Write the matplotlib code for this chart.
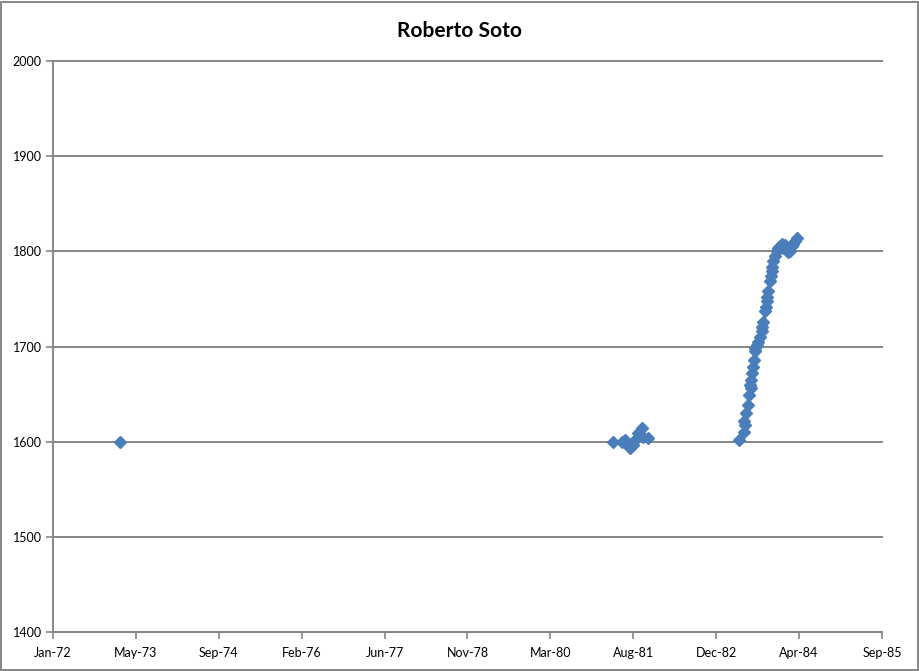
import datetime as dt
import matplotlib
matplotlib.use('Agg')
import matplotlib.pyplot as plt
import matplotlib.dates as mdates
from matplotlib.patches import Rectangle

plt.rcParams['font.family'] = ['Lato', 'DejaVu Sans']

# Rating history (date, rating)
dates = [
    '1973-02-08',
    '1981-03-30', '1981-05-23', '1981-06-12', '1981-07-02', '1981-07-12',
    '1981-08-01', '1981-08-11', '1981-08-31', '1981-09-21', '1981-10-01',
    '1981-10-31',
    '1983-05-01', '1983-05-31', '1983-06-05', '1983-06-01', '1983-06-14',
    '1983-06-24', '1983-06-28', '1983-07-05', '1983-07-10', '1983-07-14',
    '1983-07-18', '1983-07-24', '1983-07-30', '1983-08-03', '1983-08-08',
    '1983-08-19', '1983-08-25', '1983-09-04', '1983-09-14', '1983-09-19',
    '1983-09-24', '1983-10-04', '1983-10-09', '1983-10-14', '1983-10-19',
    '1983-10-24', '1983-11-03', '1983-11-08', '1983-11-13', '1983-11-18',
    '1983-11-23', '1983-12-01', '1983-12-14', '1983-12-22', '1984-01-03',
    '1984-01-13', '1984-01-23', '1984-02-02', '1984-02-12', '1984-02-22',
    '1984-03-03', '1984-03-13', '1984-03-23', '1984-04-02', '1984-04-12',
]
ratings = [
    1600,
    1600, 1600, 1602, 1597, 1593,
    1597, 1602, 1609, 1614, 1605,
    1604,
    1602, 1610, 1618, 1622, 1630,
    1639, 1649, 1660, 1656, 1665,
    1672, 1678, 1686, 1695, 1698,
    1702, 1705, 1710, 1716, 1720,
    1726, 1737, 1742, 1748, 1752,
    1758, 1769, 1774, 1779, 1784,
    1790, 1795, 1800, 1803, 1806,
    1808, 1804, 1807, 1802, 1799,
    1800, 1806, 1808, 1811, 1814,
]
y_ticks = [1400, 1500, 1600, 1700, 1800, 1900, 2000]

x = [dt.datetime.strptime(d, '%Y-%m-%d') for d in dates]
start = dt.datetime(1972, 1, 1)
x_ticks = [start + dt.timedelta(days=500 * i) for i in range(11)]

grey = '#868686'
blue = '#4A7EBB'

fig = plt.figure(figsize=(9.2, 6.71), dpi=100)
ax = fig.add_axes([53 / 920, 1 - 632 / 671, 829 / 920, 571 / 671])

ax.plot(x, ratings, linestyle='none', marker='D', markersize=6,
        color=blue, markeredgecolor=blue, zorder=3)

ax.set_xlim(x_ticks[0], x_ticks[-1])
ax.set_ylim(1400, 2000)
ax.set_xticks(x_ticks)
ax.xaxis.set_major_formatter(mdates.DateFormatter('%b-%y'))
ax.set_yticks(y_ticks)
ax.yaxis.grid(True, color=grey, linewidth=1.4)
ax.set_axisbelow(True)
for line in ax.get_ygridlines():
    line.set_clip_on(False)

for side in ['top', 'right']:
    ax.spines[side].set_visible(False)
for side in ['left', 'bottom']:
    ax.spines[side].set_color(grey)
    ax.spines[side].set_linewidth(1.4)
ax.tick_params(axis='both', colors=grey, length=5, width=1.2, direction='out')
ax.tick_params(axis='x', labelcolor='black', labelsize=9, pad=6)
ax.tick_params(axis='y', labelcolor='black', labelsize=9, pad=3)

fig.text(0.5, 1 - 31 / 671, 'Roberto Soto', ha='center', va='center',
         fontsize=15, fontweight='bold')

fig.patches.append(Rectangle((0.001, 0.0015), 0.997, 0.996, transform=fig.transFigure,
                             fill=False, edgecolor=grey, linewidth=1.4))

fig.savefig('out.png', dpi=100)
